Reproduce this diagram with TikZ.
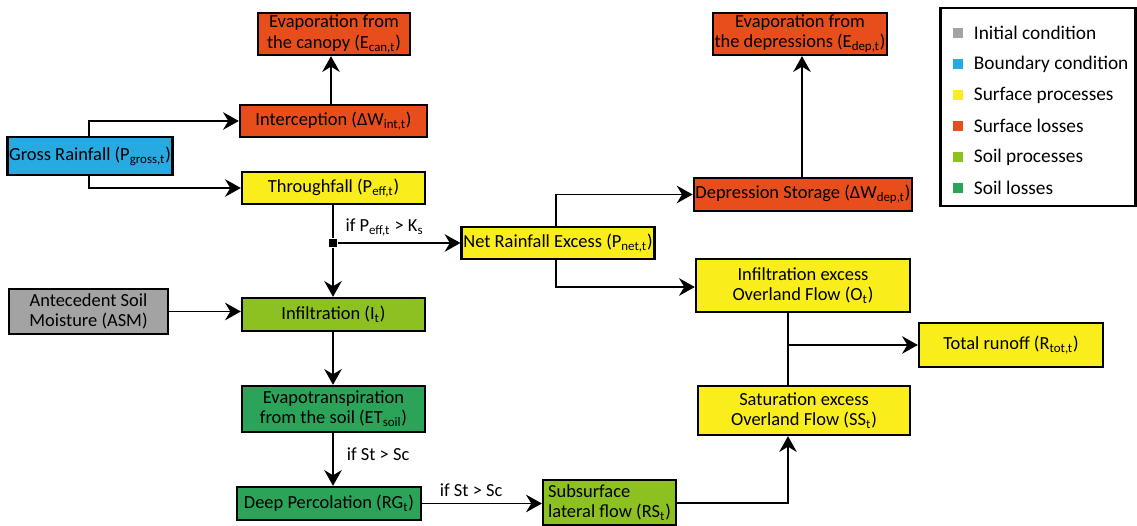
\documentclass[tikz,border=0pt]{standalone}
\usepackage{fontspec}
\setmainfont{Carlito}
\usetikzlibrary{arrows.meta}
\definecolor{icgray}{HTML}{A3A3A3}
\definecolor{bcblue}{HTML}{27AAE1}
\definecolor{spyellow}{HTML}{F9ED1C}
\definecolor{slred}{HTML}{E84E1B}
\definecolor{soilgreen}{HTML}{8DC021}
\definecolor{lossgreen}{HTML}{2BA45A}
\newcommand{\sbs}[1]{\textsubscript{#1}}

\begin{document}
\begin{tikzpicture}[>={Stealth[length=9pt,width=10pt,inset=3pt]},line width=1.1pt,
    font=\fontsize{10.5}{11.5}\selectfont,
    box/.style={draw,line width=1.3pt,align=center,inner sep=1pt},
    legsq/.style={fill=#1,minimum size=0.2cm,inner sep=0pt}]
    \useasboundingbox (0,0) rectangle (22.74,-10.52);
        % boxes
        \node[box,fill=slred,minimum width=3.04cm,minimum height=0.84cm] (ecan) at (6.68,-0.68) {Evaporation from\\the canopy (E\sbs{can,t})};
        \node[box,fill=slred,minimum width=3.74cm,minimum height=0.64cm] (intc) at (6.67,-2.42) {Interception (ΔW\sbs{int,t})};
        \node[box,fill=bcblue,minimum width=3.24cm,minimum height=0.76cm] (gross) at (1.80,-3.12) {Gross Rainfall (P\sbs{gross,t})};
        \node[box,fill=spyellow,minimum width=3.66cm,minimum height=0.64cm] (thru) at (6.67,-3.76) {Throughfall (P\sbs{eff,t})};
        \node[box,fill=slred,minimum width=3.36cm,minimum height=0.84cm] (edep) at (16.0,-0.68) {Evaporation from\\the depressions (E\sbs{dep,t})};
        \node[box,fill=slred,minimum width=4.32cm,minimum height=0.66cm] (dep) at (16.06,-3.89) {Depression Storage (ΔW\sbs{dep,t})};
        \node[box,fill=spyellow,minimum width=3.76cm,minimum height=0.64cm] (net) at (11.16,-4.86) {Net Rainfall Excess (P\sbs{net,t})};
        \node[box,fill=spyellow,minimum width=4.28cm,minimum height=1.06cm] (oexc) at (16.06,-5.71) {Infiltration excess\\Overland Flow (O\sbs{t})};
        \node[box,fill=spyellow,minimum width=3.68cm,minimum height=0.88cm] (tot) at (20.22,-6.90) {Total runoff (R\sbs{tot,t})};
        \node[box,fill=spyellow,minimum width=4.24cm,minimum height=0.98cm] (sexc) at (16.08,-8.21) {Saturation excess\\Overland Flow (SS\sbs{t})};
        \node[box,fill=soilgreen,minimum width=2.66cm,minimum height=0.90cm,align=left] (sub) at (12.19,-10.05) {Subsurface\\lateral flow (RS\sbs{t})};
        \node[box,fill=lossgreen,minimum width=3.68cm,minimum height=0.66cm] (deep) at (6.58,-10.07) {Deep Percolation (RG\sbs{t})};
        \node[box,fill=lossgreen,minimum width=3.66cm,minimum height=0.92cm] (evap) at (6.67,-8.18) {Evapotranspiration\\from the soil (ET\sbs{soil})};
        \node[box,fill=soilgreen,minimum width=3.66cm,minimum height=0.66cm] (infil) at (6.67,-6.29) {Infiltration (I\sbs{t})};
        \node[box,fill=icgray,minimum width=3.18cm,minimum height=0.90cm] (asm) at (1.77,-6.23) {Antecedent Soil\\Moisture (ASM)};
        % junctions
        \node[fill=black,minimum size=0.16cm,inner sep=0pt] (split) at (6.66,-4.86) {};
        \coordinate (merge) at (15.76,-6.90);
        % connectors
        \draw[->] (gross.north -| 1.78,0) |- (intc.west);
        \draw[->] (gross.south -| 1.78,0) |- (thru.west);
        \draw[->] (intc.north -| 6.62,0) -- (ecan.south -| 6.62,0);
        \draw (thru.south -| split) -- (split);
        \draw[->] (split) -- (infil.north -| split);
        \draw[->] (split) -- node[above,pos=0.38] {if P\sbs{eff,t} > K\sbs{s}} (net.west);
        \draw[->] (net.north -| 11.12,0) |- (dep.west);
        \draw[->] (net.south -| 11.12,0) |- (oexc.west |- 0,-5.74);
        \draw[->] (dep.north -| 16.04,0) -- (edep.south -| 16.04,0);
        \draw[->] (asm.east) -- (asm.east -| infil.west);
        \draw[->] (infil.south -| split) -- (evap.north -| split);
        \draw[->] (evap.south -| split) -- node[right,pos=0.4,xshift=4pt] {if St > Sc} (deep.north -| split);
        \draw[->] (deep.east) -- node[above,pos=0.41] {if St > Sc} (deep.east -| sub.west);
        \draw[->] (sub.east |- 0,-10.06) -| (sexc.south -| merge);
        \draw (oexc.south -| merge) -- (sexc.north -| merge);
        \draw[->] (merge) -- (tot.west);
        % legend
        \node[draw,line width=1.3pt,minimum width=3.9cm,minimum height=3.96cm] (legend) at (20.76,-2.14) {};
        \foreach \col [count=\i] in {icgray,bcblue,spyellow,slred,soilgreen,lossgreen}
            \node[legsq=\col] (sq\i) at (19.16,-0.66-0.62*\i+0.62) {};
        \foreach \txt [count=\i] in {Initial condition,Boundary condition,Surface processes,Surface losses,Soil processes,Soil losses}
            \node[right,font=\fontsize{11}{13}\selectfont,inner sep=0pt,xshift=0.18cm] (lt\i) at (sq\i.east) {\txt};
    \end{tikzpicture}
\end{document}
